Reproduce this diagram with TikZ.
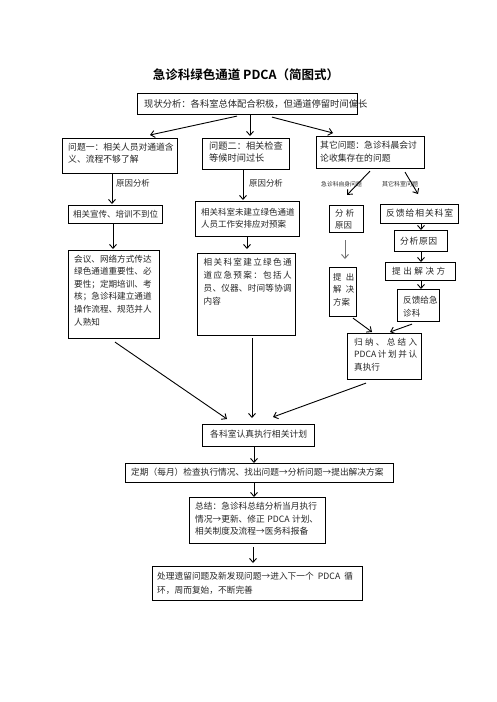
\documentclass[tikz,border=0pt]{standalone}
\usepackage{fontspec}
\newfontfamily\cjk{Noto Sans CJK SC}[BoldFont={Noto Sans CJK SC Bold}]
\usetikzlibrary{arrows.meta,calc}
\newcommand\J[2]{\makebox[#1][s]{\spaceskip=0pt plus 1fil\relax #2}}
\begin{document}
\begin{tikzpicture}[x=1pt,y=-1pt,
  box/.style={draw=black, line width=1.1pt, anchor=north west, inner sep=0pt},
  sz/.style 2 args={minimum width=#1pt, minimum height=#2pt},
  txt/.style={anchor=north west, inner sep=0pt, align=left, text=black!85},
  fs/.style 2 args={font=\cjk\fontsize{#1}{#2}\selectfont},
  arr/.style={-{Straight Barb[length=4pt,width=7pt]}, line width=0.9pt},
  lab/.style={anchor=west, inner sep=0pt, text=black!85}]
\useasboundingbox[fill=white] (0,0) rectangle (496,702);

% title
\node[inner sep=0pt, font=\cjk\bfseries\fontsize{12.5}{14}\selectfont] (title) at (246,75) {急诊科绿色通道 PDCA（简图式）};

% boxes
\node[box, sz={220}{21}]  (b0) at (137,93) {};
\node[box, sz={115}{35}]  (q1) at (62,138) {};
\node[box, sz={87}{31}]   (q2) at (202,138) {};
\node[box, sz={108}{32}]  (q3) at (316,136) {};
\node[box, sz={94}{18}]   (c1) at (68,205) {};
\node[box, sz={104}{35}]  (c2) at (195,201) {};
\node[box, sz={91}{88}]   (d1) at (68,250) {};
\node[box, sz={98}{82}]   (d2) at (197,253) {};
\node[box, sz={34}{27}]   (r1) at (329,205) {};
\node[box, sz={27}{49}]   (r2) at (329,267) {};
\node[box, sz={78}{19}]   (s1) at (380,204) {};
\node[box, sz={53}{21}]   (s2) at (394,230) {};
\node[box, sz={70}{18}]   (s3) at (385,262) {};
\node[box, sz={42}{32}]   (s4) at (397,289) {};
\node[box, sz={74}{46}]   (f)  at (347,333) {};
\node[box, sz={112}{22}]  (e)  at (202,424) {};
\node[box, sz={268}{19}]  (g)  at (125,463) {};
\node[box, sz={136}{46}]  (h)  at (189,497) {};
\node[box, sz={210}{34}]  (i)  at (152,566) {};

% texts
\node[txt, fs={9.3}{12}] (tb0) at (144,99.5) {现状分析：各科室总体配合积极，但通道停留时间偏长};
\node[txt, fs={8.8}{12}] (tq1) at (68,143) {问题一：相关人员对通道含\\义、流程不够了解};
\node[txt, fs={9.2}{12}] (tq2) at (209,142) {问题二：相关检查\\等候时间过长};
\node[txt, fs={8.8}{13}] (tq3) at (320,141) {其它问题：急诊科晨会讨\\论收集存在的问题};
\node[txt, fs={8.5}{12}] (tc1) at (73,210) {相关宣传、培训不到位};
\node[txt, fs={8.5}{12.5}] (tc2) at (201,208) {相关科室未建立绿色通道\\人员工作安排应对预案};
\node[txt, fs={8.6}{12.6}] (td1) at (74,254.5) {会议、网络方式传达\\绿色通道重要性、必\\要性；定期培训、考\\核；急诊科建立通道\\操作流程、规范并人\\人熟知};
\node[txt, fs={8.6}{13.3}] (td2) at (203.5,257.5) {\J{88pt}{相 关 科 室 建 立 绿 色 通}\\\J{88pt}{道 应 急 预 案 ： 包 括 人}\\\J{88pt}{员 、 仪 器 、 时 间 等 协 调}\\内容};
\node[txt, fs={8.4}{12}] (tr1) at (335,209) {\J{19pt}{分 析}\\原因};
\node[txt, fs={8.4}{12.5}] (tr2) at (333,273) {\J{21pt}{提 出}\\\J{21pt}{解 决}\\方案};
\node[txt, fs={8.8}{12}] (ts1) at (386,209) {\J{67pt}{反 馈 给 相 关 科 室}};
\node[txt, fs={8.8}{12}] (ts2) at (400,236.5) {\J{37pt}{分 析 原 因}};
\node[txt, fs={8.6}{12}] (ts3) at (392,267) {\J{53pt}{提 出 解 决 方}};
\node[txt, fs={8.6}{13}] (ts4) at (403,296) {反馈给急\\诊科};
\node[txt, fs={8.6}{12.3}] (tf) at (354,338) {\J{63pt}{归 纳 、 总 结 入}\\\J{63pt}{PDCA 计 划 并 认}\\真执行};
\node[txt, fs={8.8}{12}] (te) at (210,430) {\J{97pt}{各 科 室 认 真 执 行 相 关 计 划}};
\node[txt, fs={8.7}{12}] (tg) at (131,468) {定期（每月）检查执行情况、找出问题→分析问题→提出解决方案};
\node[txt, fs={8.7}{12.5}] (th) at (195,502) {\J{123pt}{总结：急诊科总结分析当月执行}\\\J{123pt}{情况→更新、修正 PDCA 计划、}\\相关制度及流程→医务科报备};
\node[txt, fs={8.7}{13.5}] (ti) at (157,572) {\J{196pt}{处理遗留问题及新发现问题→进入下一个 PDCA 循}\\环，周而复始，不断完善};

% labels
\node[lab, fs={8.4}{10}] (l1) at (116,183) {原因分析};
\node[lab, fs={8.4}{10}] (l2) at (249,183) {原因分析};
\node[lab, fs={5.8}{7}] (l3) at (321,184) {急诊科自身问题};
\node[lab, fs={6}{7}] (l4) at (382,184) {其它科室问题};

% connectors
\draw[arr] ($(b0.south west)+(100,1)$) -- ($(q1.north west)+(88,-3)$);
\draw[arr] ($(b0.south west)+(113,0)$) -- ($(q2.north west)+(48,-2)$);
\draw[arr] ($(b0.south west)+(135,2)$) -- ($(q3.north west)+(17,-3)$);
\draw[arr] ($(q1.south west)+(50,0)$) -- ($(c1.north west)+(44,-1)$);
\draw[arr] ($(q2.south west)+(41,0)$) -- ($(c2.north west)+(48,-1)$);
\draw[arr] ($(c1.south west)+(45,0)$) -- ($(d1.north west)+(45,-1)$);
\draw[arr] ($(c2.south west)+(52,0)$) -- ($(d2.north west)+(50,-4)$);
\draw[arr] ($(d1.south west)+(47,3)$) -- ($(e.north west)+(25,-5)$);
\draw[arr] ($(d2.south west)+(55,2)$) -- ($(e.north west)+(50,-6)$);
\draw[arr] ($(f.south west)+(19,3)$) -- ($(e.north west)+(71,-7)$);
\draw[arr] ($(q3.south west)+(54,2)$) -- ($(r1.north west)+(18,-10)$);
\draw[arr] ($(q3.south west)+(89,3)$) -- ($(s1.north west)+(38,-10)$);
\draw[arr, draw=black!55] ($(r1.south west)+(16,7)$) -- ($(r2.north west)+(16,-8)$);
\draw[arr] ($(s1.south west)+(41,0)$) -- ($(s2.north west)+(27,0)$);
\draw[arr] ($(s2.south west)+(27,0)$) -- ($(s3.north west)+(36,0)$);
\draw[arr] ($(s3.south west)+(36,0)$) -- ($(s4.north west)+(24,0)$);
\draw[arr] ($(r2.south west)+(24,1)$) -- ($(f.north west)+(25,-1)$);
\draw[arr] ($(s4.south west)+(15,2)$) -- ($(f.north west)+(43,-1)$);
\draw[arr] ($(e.south west)+(52,0)$) -- ($(g.north west)+(129,0)$);
\draw[arr] ($(g.south west)+(129,0)$) -- ($(h.north west)+(65,0)$);
\draw[arr] ($(h.south west)+(64,3)$) -- ($(i.north west)+(101,-3)$);
\end{tikzpicture}
\end{document}
